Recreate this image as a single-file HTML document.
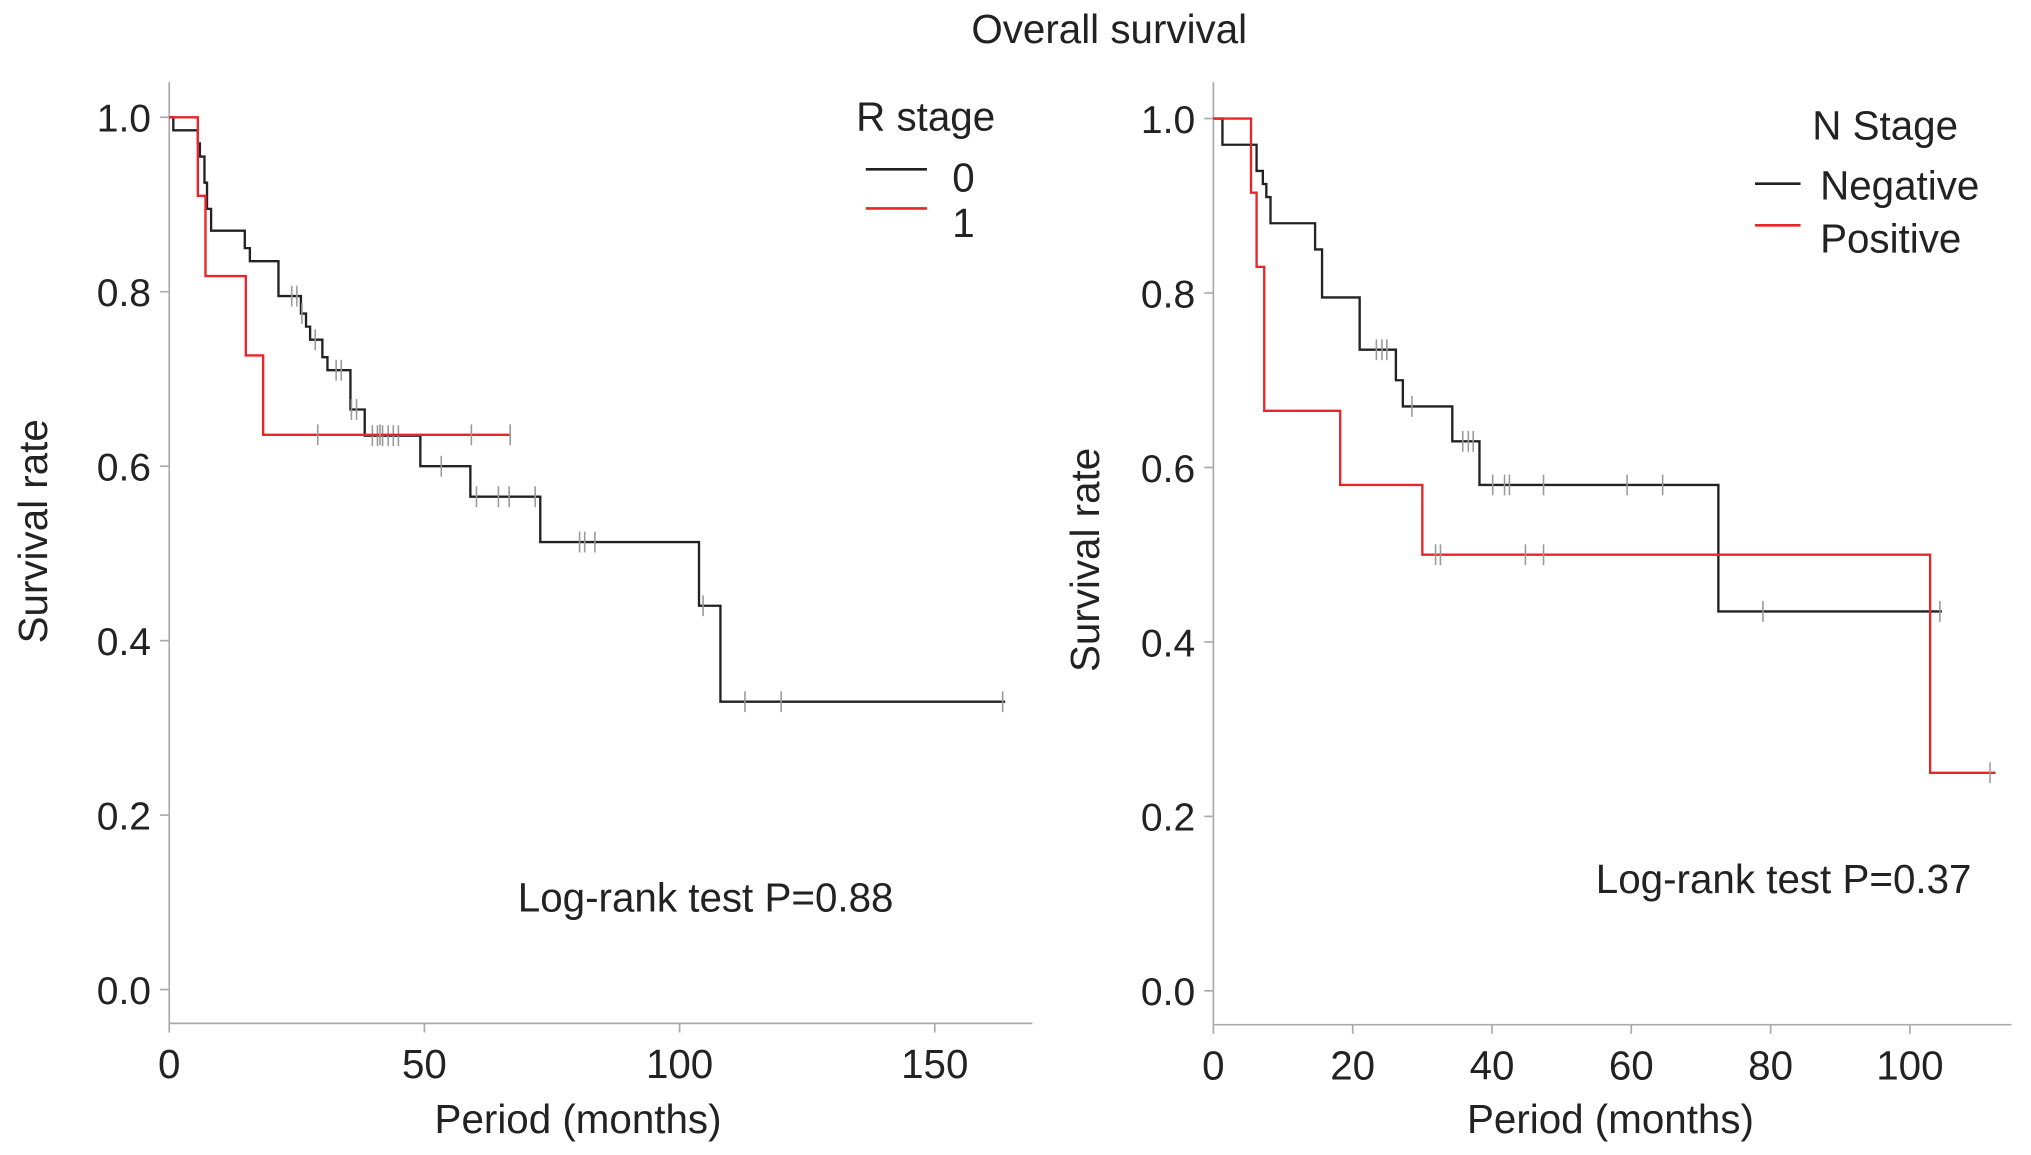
<!DOCTYPE html>
<html><head><meta charset="utf-8"><style>
html,body{margin:0;padding:0;background:#fff;}
svg{display:block;font-family:"Liberation Sans",sans-serif;}
</style></head><body>
<svg id="chart" width="2031" height="1155" viewBox="0 0 1560 887" xmlns="http://www.w3.org/2000/svg">
<text x="852" y="33" font-size="31" text-anchor="middle" fill="#222">Overall survival</text>
<g id="left"></g><g id="right"></g>
</svg>
<script>
// Left panel: R stage
const leftXTicks = [0, 50, 100, 150];
const rightXTicks = [0, 20, 40, 60, 80, 100];
const yTicks = [0.0, 0.2, 0.4, 0.6, 0.8, 1.0];
const r0Times = [0, 0.8, 5.6, 6.0, 6.9, 7.4, 8.2, 14.8, 15.8, 21.4, 25.8, 26.8, 27.6, 30, 31, 35.5, 38.3, 49.2, 59, 72.7, 103.8, 108];
const r0Surv = [1.0, 0.985, 0.97, 0.955, 0.925, 0.895, 0.87, 0.85, 0.835, 0.795, 0.775, 0.76, 0.745, 0.725, 0.71, 0.665, 0.635, 0.6, 0.565, 0.513, 0.44, 0.33];
const r0End = 163.8;
const r0Censor = [24, 25, 26, 28.6, 32.7, 33.7, 35.7, 36.7, 39.8, 40.8, 41.8, 42.9, 43.9, 44.9, 53.3, 60.2, 64.5, 66.6, 71.7, 80.4, 81.4, 83.4, 104.6, 112.8, 119.9, 163.3];
const r1Times = [0, 5.6, 7.1, 15, 18.4];
const r1Surv = [1.0, 0.91, 0.818, 0.727, 0.636];
const r1End = 66.8;
const r1Censor = [29.1, 41.3, 59.2, 66.8];
// Right panel: N stage
const negTimes = [0, 1.3, 6.2, 7.1, 7.6, 8.2, 14.6, 15.6, 21, 26.2, 27.2, 34.3, 38.2, 72.5];
const negSurv = [1.0, 0.97, 0.94, 0.925, 0.91, 0.88, 0.85, 0.795, 0.735, 0.70, 0.67, 0.63, 0.58, 0.435];
const negEnd = 104.6;
const negCensor = [23.4, 24.2, 24.9, 28.5, 35.8, 36.6, 37.3, 40.1, 41.8, 42.5, 47.4, 59.4, 64.5, 78.9, 104.3];
const posTimes = [0, 5.4, 6.2, 7.3, 18.2, 30, 102.9];
const posSurv = [1.0, 0.915, 0.83, 0.665, 0.58, 0.5, 0.25];
const posEnd = 112.3;
const posCensor = [31.9, 32.6, 44.8, 47.4, 111.5];

const NS = "http://www.w3.org/2000/svg";
function mk(parent, tag, attrs, text){
  const e = document.createElementNS(NS, tag);
  for (const k in attrs) e.setAttribute(k, attrs[k]);
  if (text !== undefined) e.textContent = text;
  parent.appendChild(e); return e;
}
function survAt(times, surv, t){ let s = surv[0]; for (let i=0;i<times.length;i++){ if (times[i] <= t) s = surv[i]; } return s; }

function panel(g, cfg){
  const xs = m => cfg.x0 + m * cfg.pxPerMonth;
  const ys = v => cfg.y0 - v * cfg.pxPerUnit;
  const ax = mk(g, 'line', {x1:cfg.x0, y1:cfg.axTop, x2:cfg.x0, y2:cfg.axY, stroke:'#aaa','stroke-width':1.3});
  
  
  const bx = mk(g, 'line', {x1:cfg.x0, y1:cfg.axY, x2:cfg.axRight, y2:cfg.axY, stroke:'#aaa','stroke-width':1.3});
  
  
  yTicks.forEach(v => {
    mk(g, 'line', {x1:cfg.x0-7, y1:ys(v), x2:cfg.x0, y2:ys(v), stroke:'#aaa','stroke-width':1.3});
    const t = mk(g, 'text', {x:cfg.x0-14, y:ys(v)+11, 'font-size':30, 'text-anchor':'end', fill:'#222'}, v.toFixed(1));
    
    
  });
  cfg.xTicks.forEach(v => {
    mk(g, 'line', {x1:xs(v), y1:cfg.axY, x2:xs(v), y2:cfg.axY+7, stroke:'#aaa','stroke-width':1.3});
    const t = mk(g, 'text', {x:xs(v), y:cfg.axY+42, 'font-size':31, 'text-anchor':'middle', fill:'#222'}, String(v));
    
    
  });
  const xt = mk(g, 'text', {x:cfg.xTitleX, y:870, 'font-size':31, 'text-anchor':'middle', fill:'#222'}, 'Period (months)');
  
  
  const yt = mk(g, 'text', {x:0, y:0, 'font-size':31, 'text-anchor':'middle', fill:'#222', transform:`translate(${cfg.yTitleX},${cfg.yTitleY}) rotate(-90)`}, 'Survival rate');
  
  
  cfg.series.forEach(s => {
    let d = `M${xs(s.times[0])},${ys(s.surv[0])}`;
    for (let i=1;i<s.times.length;i++){ d += ` H${xs(s.times[i])} V${ys(s.surv[i])}`; }
    d += ` H${xs(s.end)}`;
    const p = mk(g, 'path', {d:d, fill:'none', stroke:s.color, 'stroke-width':1.8});
    
    
    s.censor.forEach(c => {
      const v = survAt(s.times, s.surv, c);
      const l = mk(g, 'line', {x1:xs(c), y1:ys(v)-8, x2:xs(c), y2:ys(v)+8, stroke:'#999','stroke-width':1.2});
      
      
    });
  });
  const lt = mk(g, 'text', {x:cfg.legTitle[0], y:cfg.legTitle[1], 'font-size':31, 'text-anchor':'middle', fill:'#222'}, cfg.legTitleText);
  
  
  cfg.legend.forEach(le => {
    const ln = mk(g, 'line', {x1:le.lx1, y1:le.ly, x2:le.lx2, y2:le.ly, stroke:le.color, 'stroke-width':2});
    
    
    const t = mk(g, 'text', {x:le.tx, y:le.ty, 'font-size':31, 'text-anchor':le.anchor, fill:'#222'}, le.label);
    
    
  });
  const lr = mk(g, 'text', {x:cfg.lr[0], y:cfg.lr[1], 'font-size':31, 'text-anchor':'middle', fill:'#222'}, cfg.lrText);
  
  
}

panel(document.getElementById('left'), {
  id:'left', x0:130, y0:760, pxPerMonth:3.92, pxPerUnit:670, axTop:63, axY:786, axRight:793,
  xTicks:leftXTicks, xTitleX:444, yTitleX:36, yTitleY:408,
  series:[
    {name:'r-stage-0', times:r0Times, surv:r0Surv, end:r0End, censor:r0Censor, color:'#222'},
    {name:'r-stage-1', times:r1Times, surv:r1Surv, end:r1End, censor:r1Censor, color:'#e8262a'}],
  legTitleText:'R stage', legTitle:[711,100],
  legend:[{label:'0', lx1:665, lx2:712, ly:130, tx:740, ty:147, anchor:'middle', color:'#222'},
          {label:'1', lx1:665, lx2:712, ly:160, tx:740, ty:182, anchor:'middle', color:'#e8262a'}],
  lr:[542,700], lrText:'Log-rank test P=0.88'
});
panel(document.getElementById('right'), {
  id:'right', x0:932, y0:761, pxPerMonth:5.35, pxPerUnit:670, axTop:63, axY:787, axRight:1545,
  xTicks:rightXTicks, xTitleX:1237, yTitleX:844, yTitleY:430,
  series:[
    {name:'n-stage-negative', times:negTimes, surv:negSurv, end:negEnd, censor:negCensor, color:'#222'},
    {name:'n-stage-positive', times:posTimes, surv:posSurv, end:posEnd, censor:posCensor, color:'#e8262a'}],
  legTitleText:'N Stage', legTitle:[1448,107],
  legend:[{label:'Negative', lx1:1348, lx2:1383, ly:141, tx:1398, ty:153, anchor:'start', color:'#222'},
          {label:'Positive', lx1:1348, lx2:1383, ly:173, tx:1398, ty:194, anchor:'start', color:'#e8262a'}],
  lr:[1370,686], lrText:'Log-rank test P=0.37'
});
</script>
</body></html>
